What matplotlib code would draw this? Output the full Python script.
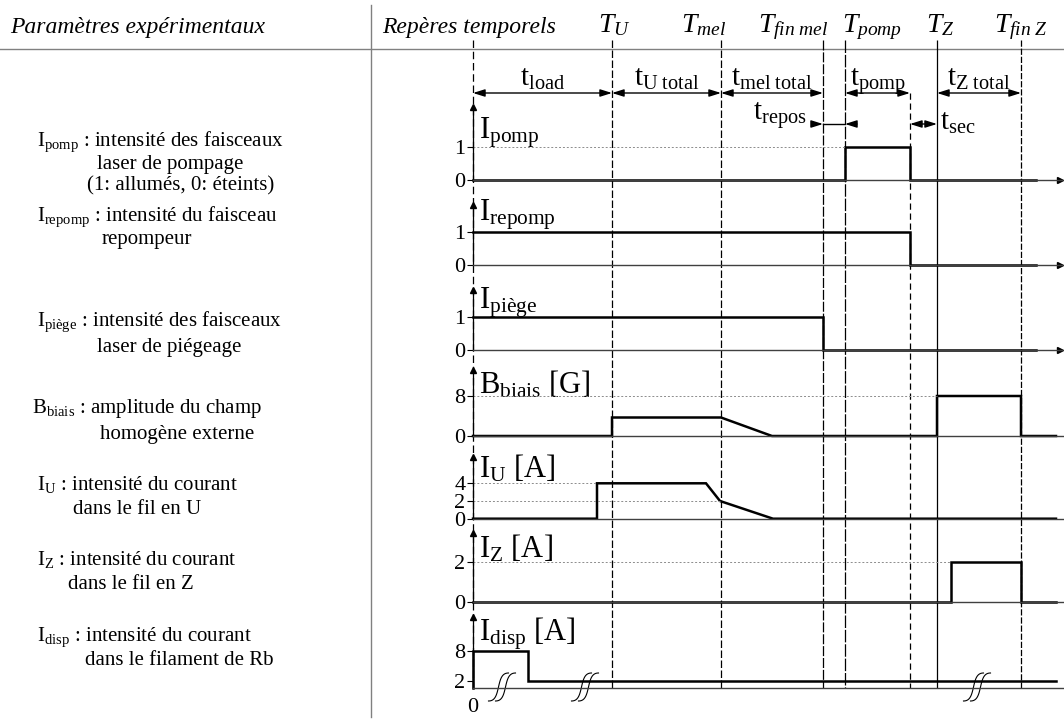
import numpy as np
import matplotlib.pyplot as plt

plt.rcParams['font.family'] = ['Liberation Serif', 'DejaVu Serif']
plt.rcParams['mathtext.fontset'] = 'custom'
plt.rcParams['mathtext.rm'] = 'Liberation Serif'
plt.rcParams['mathtext.it'] = 'Liberation Serif:italic'
plt.rcParams['mathtext.bf'] = 'Liberation Serif:bold'

# -----------------------------------------------------------
# DATA (time in arbitrary units, the time axis is not to scale)
# -----------------------------------------------------------

marker_labels = ['$T_{U}$', '$T_{mel}$', '$T_{fin\\ mel}$', '$T_{pomp}$', '$T_{Z}$', '$T_{fin\\ Z}$']
marker_times = [139, 248, 350, 372, 464, 548]
t_pomp_end = 437

duration_labels = ['$\\mathrm{t}_{\\mathrm{load}}$', '$\\mathrm{t}_{\\mathrm{U\\ total}}$',
                   '$\\mathrm{t}_{\\mathrm{mel\\ total}}$', '$\\mathrm{t}_{\\mathrm{pomp}}$',
                   '$\\mathrm{t}_{\\mathrm{Z\\ total}}$']
duration_start = [0, 139, 248, 372, 464]
duration_stop = [139, 248, 350, 437, 548]

repos_label = '$\\mathrm{t}_{\\mathrm{repos}}$'
sec_label = '$\\mathrm{t}_{\\mathrm{sec}}$'

break_times = [29, 112, 504]

pomp_t = [0, 372, 372, 437, 437, 563]
pomp_v = [0, 0, 1, 1, 0, 0]
repomp_t = [0, 437, 437, 563]
repomp_v = [1, 1, 0, 0]
piege_t = [0, 350, 350, 563]
piege_v = [1, 1, 0, 0]
biais_t = [0, 139, 139, 248, 299, 464, 464, 548, 548, 583]
biais_v = [0, 0, 3.7, 3.7, 0, 0, 8, 8, 0, 0]
iu_t = [0, 124, 124, 233, 247, 300, 583]
iu_v = [0, 0, 4, 4, 2, 0, 0]
iz_t = [0, 478, 478, 548, 548, 583]
iz_v = [0, 0, 2, 2, 0, 0]
disp_t = [0, 0, 55, 55, 583]
disp_v = [0, 8, 8, 2, 2]

row_labels = ['$\\mathrm{I}_{\\mathrm{pomp}}$', '$\\mathrm{I}_{\\mathrm{repomp}}$',
              '$\\mathrm{I}_{\\mathrm{pi\u00e8ge}}$', '$\\mathrm{B}_{\\mathrm{biais}}$ [G]',
              '$\\mathrm{I}_{\\mathrm{U}}$ [A]', '$\\mathrm{I}_{\\mathrm{Z}}$ [A]',
              '$\\mathrm{I}_{\\mathrm{disp}}$ [A]']
row_ticks = [[0, 1], [0, 1], [0, 1], [0, 8], [0, 2, 4], [0, 2], [2, 8]]
row_signals = [(pomp_t, pomp_v), (repomp_t, repomp_v), (piege_t, piege_v),
               (biais_t, biais_v), (iu_t, iu_v), (iz_t, iz_v), (disp_t, disp_v)]

legend_lines = [
    '$\\mathrm{I}_{\\mathrm{pomp}}$ : intensité des faisceaux', 'laser de pompage',
    '(1: allumés, 0: éteints)',
    '$\\mathrm{I}_{\\mathrm{repomp}}$ : intensité du faisceau', 'repompeur',
    '$\\mathrm{I}_{\\mathrm{pi\u00e8ge}}$ : intensité des faisceaux', 'laser de piégeage',
    '$\\mathrm{B}_{\\mathrm{biais}}$ : amplitude du champ', 'homogène externe',
    '$\\mathrm{I}_{\\mathrm{U}}$ : intensité du courant', 'dans le fil en U',
    '$\\mathrm{I}_{\\mathrm{Z}}$ : intensité du courant', 'dans le fil en Z',
    '$\\mathrm{I}_{\\mathrm{disp}}$ : intensité du courant', 'dans le filament de Rb',
]

# -----------------------------------------------------------
# LAYOUT (pixels)
# -----------------------------------------------------------

W, H = 1064, 719
T0 = 473  # pixel column of t = 0
XLIM = (-T0, W - T0)

legend_x = [37, 97, 87, 37, 102, 37, 97, 32, 100, 37, 73, 37, 68, 37, 85]
legend_y = [138, 162, 183, 213, 237, 318, 345, 405, 432, 482, 507, 557, 582, 633, 658]

# baseline, arrow tip, pixels per unit, label baseline, axis end
row_base = [180, 265, 350, 436, 518.7, 602.3, 688.3]
row_top = [107, 205, 290, 370, 457, 533, 617]
row_unit = [33.3, 33.3, 33.3, 5.0, 8.85, 20.15, None]
row_label_y = [138, 220, 308, 393, 478, 557, 640]
row_axis_end = [589, 589, 589, 600, 600, 600, 600]

marker_ha = ['center', 'right', 'right', 'left', 'center', 'center']
marker_dx = [2, 5, 5, -3, 3, 0]
marker_styles = [(0, (6, 2)), (0, (6, 2)), (0, (8, 1.5)), (0, (10, 1.5)), '-', (0, (5, 1.5))]


def disp_fwd(v):
    v = np.asarray(v, dtype=float)
    return np.where(v < 2, v * 3.65, 7.3 + (v - 2) * 5.0)


def disp_inv(p):
    p = np.asarray(p, dtype=float)
    return np.where(p < 7.3, p / 3.65, 2 + (p - 7.3) / 5.0)


fig = plt.figure(figsize=(W / 100, H / 100), dpi=100)

# left panel, pixel coordinates
ax_left = fig.add_axes([0, 0, 1, 1])
ax_left.set_xlim(0, W)
ax_left.set_ylim(H, 0)
ax_left.axis('off')
ax_left.plot([0, W], [49, 49], color='0.5', lw=1)
ax_left.plot([371, 371], [5, 717], color='0.5', lw=1)
ax_left.text(10, 33, 'Paramètres expérimentaux', fontsize=17, style='italic', va='baseline')
ax_left.text(382, 33, 'Repères temporels', fontsize=17, style='italic', va='baseline')
for x, y, s in zip(legend_x, legend_y, legend_lines):
    ax_left.text(x, y, s, fontsize=15, va='center_baseline')

# time overlay: x in time units, y in pixels
ax = fig.add_axes([0, 0, 1, 1])
ax.set_xlim(*XLIM)
ax.set_ylim(H, 0)
ax.axis('off')
ax.patch.set_visible(False)

ax.vlines([0], 40, row_base[-1], colors='k', lw=0.9, linestyles=[(0, (6, 3))])
for t, st in zip(marker_times, marker_styles):
    ax.vlines(t, 40, row_base[-1], colors='k', lw=0.9, linestyles=[st])
ax.vlines(t_pomp_end, 93, row_base[-1], colors='k', lw=0.9, linestyles=[(0, (5, 3))])

for lab, t, ha, dx in zip(marker_labels, marker_times, marker_ha, marker_dx):
    ax.text(t + dx, 32, lab, fontsize=20, ha=ha, va='baseline')

arrow2 = dict(arrowstyle='<|-|>,head_length=0.7,head_width=0.22', color='k', lw=1,
              shrinkA=0, shrinkB=0)
arrow1 = dict(arrowstyle='-|>,head_length=0.7,head_width=0.22', color='k', lw=1,
              shrinkA=0, shrinkB=0)
for lab, a, b in zip(duration_labels, duration_start, duration_stop):
    ax.annotate('', xy=(b, 93), xytext=(a, 93), arrowprops=arrow2)
    ax.text((a + b) / 2, 86, lab, fontsize=21, ha='center', va='baseline')

# t_repos: arrows pointing inwards on the short interval
ax.plot([duration_stop[2], marker_times[3]], [124, 124], color='k', lw=1)
ax.annotate('', xy=(duration_stop[2], 124), xytext=(duration_stop[2] - 10, 124), arrowprops=arrow1)
ax.annotate('', xy=(marker_times[3], 124), xytext=(marker_times[3] + 12, 124), arrowprops=arrow1)
ax.text(duration_stop[2] - 16, 120, repos_label, fontsize=21, ha='right', va='baseline')

# t_sec
ax.annotate('', xy=(marker_times[4], 124), xytext=(t_pomp_end, 124), arrowprops=arrow2)
ax.text(marker_times[4] + 3, 130, sec_label, fontsize=21, ha='left', va='baseline')

# break marks on the time axis
s = np.linspace(-1, 1, 40)
for tb in break_times:
    for dx in (-3.5, 3.5):
        ax.plot(tb + dx + 5 * s + 5 * s ** 3, 687 - 14 * np.sin(np.pi / 2 * s), color='k', lw=0.8)
ax.text(0, 708, '0', fontsize=16, ha='center', va='center')

for lab, y in zip(row_labels, row_label_y):
    ax.text(6, y, lab, fontsize=22, ha='left', va='baseline')

# signal rows
for i, (sig_t, sig_v) in enumerate(row_signals):
    base, top = row_base[i], row_top[i]
    rax = fig.add_axes([0, 1 - base / H, 1, (base - top) / H])
    rax.patch.set_visible(False)
    rax.set_xlim(*XLIM)
    if row_unit[i] is None:
        rax.set_yscale('function', functions=(disp_fwd, disp_inv))
        ytop = float(disp_inv(base - top))
    else:
        ytop = (base - top) / row_unit[i]
    rax.set_ylim(0, ytop)
    rax.yaxis.set_minor_locator(plt.NullLocator())

    rax.plot(sig_t, sig_v, color='k', lw=1.8, clip_on=False, solid_joinstyle='miter')

    # dotted guide from the axis to the first point at that level
    for lv in row_ticks[i]:
        if lv == 0 or row_unit[i] is None:
            continue
        first = [t for t, v in zip(sig_t, sig_v) if v == lv]
        if first and first[0] > 0:
            rax.hlines(lv, 0, first[0], colors='0.55', lw=0.7, linestyles=[(0, (2, 2))])

    for side in ('top', 'right'):
        rax.spines[side].set_visible(False)
    rax.spines['left'].set_position(('data', 0))
    rax.spines['left'].set_bounds(0, ytop)
    rax.spines['bottom'].set_bounds(0, row_axis_end[i])
    rax.spines['left'].set_color('k')
    rax.spines['left'].set_linewidth(0.9)
    rax.spines['bottom'].set_color('0.25')
    rax.spines['bottom'].set_linewidth(1.0)
    rax.set_xticks([])
    rax.set_yticks(row_ticks[i])
    rax.set_yticklabels([str(v) for v in row_ticks[i]])
    rax.tick_params(axis='y', direction='out', length=4, width=0.8, pad=1.5, labelsize=16)
    rax.plot(0, 1, '^', color='k', ms=4.5, transform=rax.get_xaxis_transform(), clip_on=False)
    if i < 3:
        rax.plot(row_axis_end[i] - 2, 0, '>', color='k', ms=4.5, clip_on=False)

fig.savefig('out.png', dpi=100)
